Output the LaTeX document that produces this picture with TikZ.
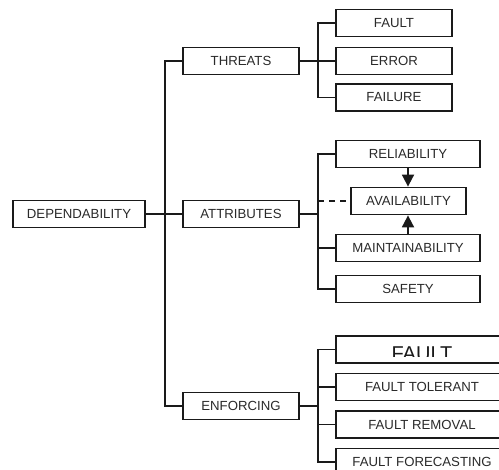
\documentclass[tikz,border=0pt]{standalone}
\usepackage{fontspec}
\setmainfont{Liberation Sans}
\usetikzlibrary{arrows.meta}
\definecolor{ink}{HTML}{1A1A1A}
\definecolor{txt}{HTML}{2A2A2A}
\begin{document}
\begin{tikzpicture}[x=1pt,y=-1pt,
  box/.style={draw=ink,line width=1.8pt,fill=white,minimum height=27pt,inner sep=0pt,
    text=txt,font=\fontsize{13.2}{15}\selectfont},
  conn/.style={draw=ink,line width=1.8pt},
  arr/.style={draw=ink,line width=1.8pt,-{Triangle[width=12pt,length=12pt]}}]
\useasboundingbox (0,0) rectangle (499,470);
\clip (0,0) rectangle (499,470);
\fill[white] (0,0) rectangle (499,470);
\coordinate (trunk) at (165,0);
\coordinate (bus) at (318,0);
% nodes
\node[box,minimum width=132pt] (dep) at (79,214) {DEPENDABILITY};
\node[box,minimum width=116pt] (threats) at (241,61) {THREATS};
\node[box,minimum width=116pt] (attr) at (241,214) {ATTRIBUTES};
\node[box,minimum width=116pt] (enf) at (241,406) {ENFORCING};
\node[box,minimum width=116pt] (fault) at (394,23) {FAULT};
\node[box,minimum width=116pt] (error) at (394,61) {ERROR};
\node[box,minimum width=116pt] (failure) at (394,97.5) {FAILURE};
\node[box,minimum width=144pt] (rel) at (408,154) {RELIABILITY};
\node[box,minimum width=115pt] (avail) at (408.5,201) {AVAILABILITY};
\node[box,minimum width=144pt] (maint) at (408,248) {MAINTAINABILITY};
\node[box,minimum width=144pt] (safety) at (408,289) {SAFETY};
\node[box,minimum width=172pt] (fprev) at (422,349.5) {};
\node[box,minimum width=172pt] (ftol) at (422,387) {FAULT TOLERANT};
\node[box,minimum width=172pt] (frem) at (422,424.5) {FAULT REMOVAL};
\node[box,minimum width=172pt] (ffore) at (422,462) {FAULT FORECASTING};
\begin{scope}
\clip (337,337) rectangle (507,357);
\node[anchor=base,inner sep=0pt,text=ink,font=\fontsize{20}{22}\selectfont] (fbig) at (fprev.center |- 0,361) {FAULT};
\end{scope}
% trunk
\draw[conn] (threats.west) -- (threats.west -| trunk) |- (enf.west);
\draw[conn] (dep.east) -- (attr.west);
% threats group
\draw[conn] (threats.east) -- (error.west);
\draw[conn] (fault.west) -- (fault.west -| bus) |- (failure.west);
% attributes group
\draw[conn] (rel.west) -- (rel.west -| bus) |- (safety.west);
\draw[conn] (attr.east) -- (attr.east -| bus);
\draw[conn] (maint.west) -- (maint.west -| bus);
\draw[conn,dash pattern=on 6pt off 5pt] (avail.west -| bus) -- (avail.west);
\draw[arr] (rel.south) -- (rel.south |- avail.north);
\draw[arr] (maint.north) -- (maint.north |- avail.south);
% enforcing group
\draw[conn] (fprev.west) -- (fprev.west -| bus) |- (ffore.west);
\draw[conn] (enf.east) -- (enf.east -| bus);
\draw[conn] (ftol.west) -- (ftol.west -| bus);
\draw[conn] (frem.west) -- (frem.west -| bus);
\end{tikzpicture}
\end{document}
